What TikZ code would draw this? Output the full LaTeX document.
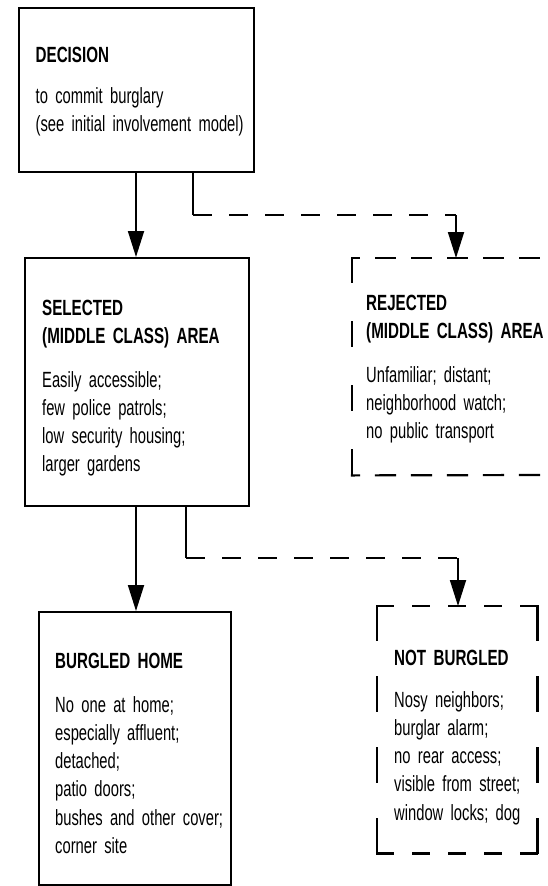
\documentclass[tikz,border=0pt]{standalone}
\usepackage{fontspec}
\setmainfont{Liberation Sans}[FakeStretch=0.67, WordSpace=0.6]
\newfontfamily\headfont{Liberation Sans}[FakeStretch=0.69, WordSpace=0.55]
\usetikzlibrary{arrows.meta}
\begin{document}
\begin{tikzpicture}[x=1pt,y=-1pt,
  box/.style={draw, line width=2.2pt, anchor=north west, inner sep=0pt},
  frame/.style={anchor=north west, inner sep=0pt},
  dside/.style 2 args={line width=2.2pt, line cap=rect, dash pattern=on #1 off #2},
  conn/.style={line width=1.8pt},
  dconn/.style={line width=2.2pt, dash pattern=on 19pt off 17pt},
  arr/.style={line width=1.8pt, -{Triangle[length=26pt,width=16pt]}},
  head/.style={anchor=base west, inner sep=0pt, text width=220pt, align=left,
    font=\headfont\bfseries\fontsize{22}{28}\selectfont},
  body/.style={anchor=base west, inner sep=0pt, text width=220pt, align=left,
    font=\fontsize{22}{28.3}\selectfont}]
\useasboundingbox (0,0) rectangle (547,886);
% boxes
\node[box, minimum width=235pt, minimum height=164pt] (dec) at (18,7) {};
\node[box, minimum width=224pt, minimum height=248pt] (sel) at (24,257) {};
\node[frame, minimum width=195pt, minimum height=217pt] (rej) at (352,258) {};
\coordinate (edgeT) at (547,258);
\coordinate (edgeB) at (547,475);
\draw[dside={19pt}{17pt}, dash phase=12pt] (rej.north west) -- (edgeT);
\draw[dside={19pt}{17pt}, dash phase=12pt] (rej.south west) -- (edgeB);
\draw[dside={24pt}{40pt}] (rej.north west) -- (rej.south west);
\node[box, minimum width=192pt, minimum height=273pt] (burg) at (38,611) {};
\node[frame, minimum width=160pt, minimum height=247pt] (nb) at (377,606) {};
\draw[dside={16pt}{20pt}] (nb.north west) -- (nb.north east);
\draw[dside={16pt}{20pt}] (nb.south west) -- (nb.south east);
\draw[dside={34pt}{37pt}] (nb.north west) -- (nb.south west);
\draw[dside={34pt}{37pt}] (nb.north east) -- (nb.south east);
% texts
\node[head] (decH) at (35.5,62) {DECISION};
\node[body] (decB) at (35.5,103) {to commit burglary\\(see initial involvement model)};
\node[head] (selH) at (42,315) {SELECTED\\(MIDDLE CLASS) AREA};
\node[body] (selB) at (42,387) {Easily accessible;\\few police patrols;\\low security housing;\\larger gardens};
\node[head] (rejH) at (366,310) {REJECTED\\(MIDDLE CLASS) AREA};
\node[body] (rejB) at (366,382) {Unfamiliar; distant;\\neighborhood watch;\\no public transport};
\node[head] (burgH) at (55,668) {BURGLED HOME};
\node[body] (burgB) at (55,712) {No one at home;\\especially affluent;\\detached;\\patio doors;\\bushes and other cover;\\corner site};
\node[head] (nbH) at (394,665) {NOT BURGLED};
\node[body] (nbB) at (394,707) {Nosy neighbors;\\burglar alarm;\\no rear access;\\visible from street;\\window locks; dog};
% connectors
\coordinate (m1) at (136,0);
\coordinate (c1) at (193,215);
\coordinate (c2) at (456,215);
\coordinate (c3) at (186,558);
\coordinate (c4) at (458,558);
\draw[arr] (dec.south -| m1) -- (sel.north -| m1);
\draw[conn] (dec.south -| c1) -- (c1);
\draw[dconn] (c1) -- (c2);
\draw[arr] (c2) -- (c2 |- rej.north);
\draw[arr] (sel.south -| m1) -- (burg.north -| m1);
\draw[conn] (sel.south -| c3) -- (c3);
\draw[dconn] (c3) -- (c4);
\draw[arr] (c4) -- (c4 |- nb.north);
\end{tikzpicture}
\end{document}
